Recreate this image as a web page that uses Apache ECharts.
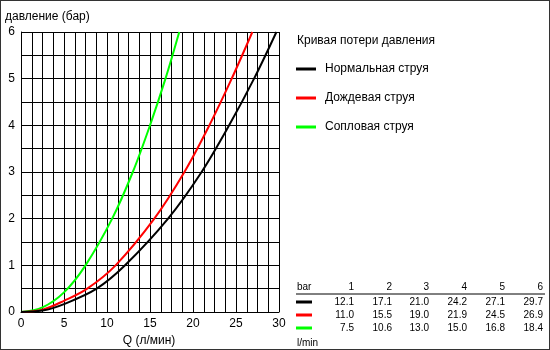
<!DOCTYPE html>
<html>
<head>
<meta charset="utf-8">
<script src="https://cdn.jsdelivr.net/npm/echarts@6/dist/echarts.min.js"></script>
<style>
html,body{margin:0;padding:0;background:#fff;}
#c{width:550px;height:350px;box-sizing:border-box;border:1px solid #333;}
</style>
</head>
<body>
<div id="c"></div>
<script>
// Table data (pressure in bar -> flow in l/min)
var pressures = [1, 2, 3, 4, 5, 6];
var flowNormal = [12.1, 17.1, 21.0, 24.2, 27.1, 29.7];
var flowRain   = [11.0, 15.5, 19.0, 21.9, 24.5, 26.9];
var flowJet    = [7.5, 10.6, 13.0, 15.0, 16.8, 18.4];

// Low-pressure points
var lowNormal = [[0, 0], [2.5, 0.03], [5, 0.17], [8.8, 0.5]];
var lowRain   = [[0, 0], [2.5, 0.05], [5, 0.24], [7.7, 0.5]];
var lowJet    = [[0, 0], [2.5, 0.1], [5, 0.42]];

var seriesNames = ['Нормальная струя', 'Дождевая струя', 'Сопловая струя'];
var seriesColors = ['#000000', '#ff0000', '#00ff00'];
var xTicks = [0, 5, 10, 15, 20, 25, 30];

function build(low, flows) {
  return low.concat(pressures.map(function (p, i) { return [flows[i], p]; }));
}
var allFlows = [flowNormal, flowRain, flowJet];
var allLow = [lowNormal, lowRain, lowJet];

var font = 'Liberation Sans, Arial, sans-serif';
var chart = echarts.init(document.getElementById('c'));

var graphics = [
  {type: 'text', left: 4, top: 10, style: {text: 'давление (бар)', font: '12px ' + font, fill: '#000'}},
  {type: 'text', x: 148, y: 340, style: {text: 'Q (л/мин)', font: '12px ' + font, fill: '#000', align: 'center', verticalAlign: 'middle'}},
  {type: 'text', x: 296, y: 40, style: {text: 'Кривая потери давления', font: '12px ' + font, fill: '#000', verticalAlign: 'middle'}},
  {type: 'text', x: 296, y: 286, style: {text: 'bar', font: '10px ' + font, fill: '#000', verticalAlign: 'middle'}},
  {type: 'line', shape: {x1: 295, y1: 293, x2: 544, y2: 293}, style: {stroke: '#000', lineWidth: 1}},
  {type: 'text', x: 296, y: 342, style: {text: 'l/min', font: '10px ' + font, fill: '#000', verticalAlign: 'middle'}}
];
var colX = [353, 391, 428, 466, 504, 542];
var rowY = [301, 314, 327];
pressures.forEach(function (p, i) {
  graphics.push({type: 'text', x: colX[i], y: 286, style: {text: String(p), font: '10px ' + font, fill: '#000', align: 'right', verticalAlign: 'middle'}});
});
allFlows.forEach(function (flows, r) {
  graphics.push({type: 'rect', shape: {x: 295, y: rowY[r] - 1.5, width: 16, height: 3}, style: {fill: seriesColors[r]}});
  flows.forEach(function (f, i) {
    graphics.push({type: 'text', x: colX[i], y: rowY[r], style: {text: f.toFixed(1), font: '10px ' + font, fill: '#000', align: 'right', verticalAlign: 'middle'}});
  });
});

chart.setOption({
  backgroundColor: '#ffffff',
  animation: false,
  grid: {left: 20, right: 270, top: 31, bottom: 37, containLabel: false},
  legend: {
    orient: 'vertical', left: 295, top: 62, padding: 0, itemGap: 17, itemWidth: 20, itemHeight: 3,
    icon: 'rect', selectedMode: false,
    data: seriesNames,
    textStyle: {fontFamily: font, fontSize: 12, color: '#000', padding: [0, 0, 0, 4]}
  },
  xAxis: {
    type: 'value', min: 0, max: 30, interval: 5,
    axisLine: {show: true, lineStyle: {color: '#000', width: 1}},
    axisTick: {show: false},
    minorTick: {show: false, splitNumber: 4},
    splitLine: {show: true, lineStyle: {color: '#000', width: 1}},
    minorSplitLine: {show: true, lineStyle: {color: '#000', width: 1}},
    axisLabel: {margin: 6, fontFamily: font, fontSize: 12, color: '#000',
      formatter: function (v) { return xTicks.indexOf(v) >= 0 ? String(v) : ''; }}
  },
  yAxis: {
    type: 'value', min: 0, max: 6, interval: 1,
    axisLine: {show: true, lineStyle: {color: '#000', width: 1}},
    axisTick: {show: false},
    minorTick: {show: false, splitNumber: 2},
    splitLine: {show: true, lineStyle: {color: '#000', width: 1}},
    minorSplitLine: {show: true, lineStyle: {color: '#000', width: 1}},
    axisLabel: {margin: 6, fontFamily: font, fontSize: 12, color: '#000'}
  },
  series: seriesNames.map(function (name, i) {
    return {
      name: name, type: 'line', data: build(allLow[i], allFlows[i]),
      smooth: 0.35, showSymbol: false, color: seriesColors[i],
      lineStyle: {width: 2, color: seriesColors[i]}, z: 5 - i
    };
  }),
  graphic: graphics
});
</script>
</body>
</html>
